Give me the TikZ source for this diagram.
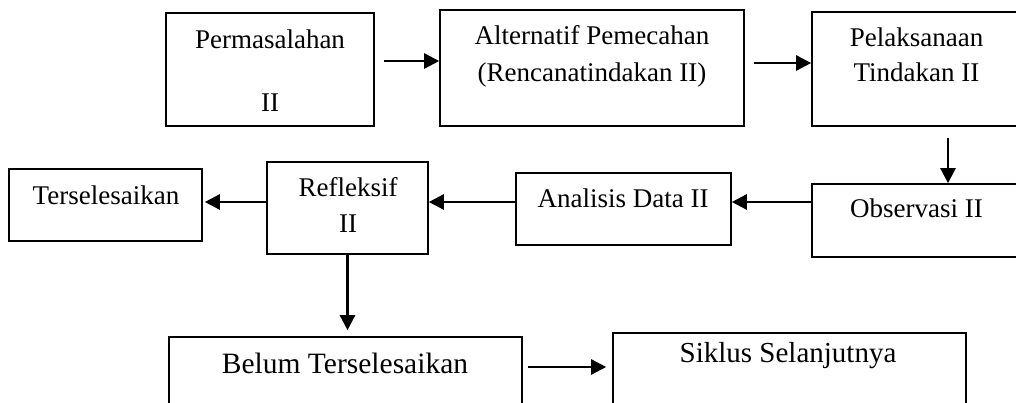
\documentclass[tikz,border=0pt]{standalone}
\usepackage{fontspec}
\setmainfont{Liberation Serif}
\usetikzlibrary{arrows.meta}
\begin{document}
\begin{tikzpicture}[x=1pt,y=-1pt,
  box/.style={draw=black,line width=1.6pt,fill=white},
  lbl/.style={anchor=base,inner sep=0pt,font=\fontsize{27}{30}\selectfont},
  biglbl/.style={anchor=base,inner sep=0pt,font=\fontsize{29.5}{33}\selectfont},
  arr/.style={line width=2.5pt,-{Triangle[length=15pt,width=15pt]}}]
\path[use as bounding box,clip] (0,0) rectangle (1016,403);
\fill[white] (0,0) rectangle (1016,403);
% boxes
\node[box,minimum width=208pt,minimum height=113pt] (perm) at (270,69.5) {};
\node[box,minimum width=304pt,minimum height=116pt] (alt) at (592,68) {};
\node[box,minimum width=209pt,minimum height=114pt] (pel) at (916.5,69) {};
\node[box,minimum width=209pt,minimum height=73pt] (obs) at (916.5,220.5) {};
\node[box,minimum width=215pt,minimum height=72pt] (ana) at (623.5,209) {};
\node[box,minimum width=161pt,minimum height=92pt] (ref) at (347.5,208) {};
\node[box,minimum width=193pt,minimum height=72pt] (ters) at (105.5,205) {};
\node[box,minimum width=353pt,minimum height=73pt] (belum) at (345.5,373.5) {};
\node[box,minimum width=353pt,minimum height=77pt] (sik) at (789.5,371.5) {};
% texts
\node[lbl] (tperm1) at (270,49) {Permasalahan};
\node[lbl] (tperm2) at (270,112) {II};
\node[lbl] (talt1) at (592,45) {Alternatif Pemecahan};
\node[lbl] (talt2) at (592,82) {(Rencanatindakan II)};
\node[lbl] (tpel1) at (916.5,47) {Pelaksanaan};
\node[lbl] (tpel2) at (916.5,82) {Tindakan II};
\node[lbl] (tobs) at (916.5,218) {Observasi II};
\node[lbl] (tana) at (623,208) {Analisis Data II};
\node[lbl] (tref1) at (348,197) {Refleksif};
\node[lbl] (tref2) at (348,233) {II};
\node[lbl] (tters) at (106,205) {Terselesaikan};
\node[biglbl] (tbelum) at (345,373) {Belum Terselesaikan};
\node[lbl,font=\fontsize{29}{32}\selectfont] (tsik) at (788,362) {Siklus Selanjutnya};
% connectors
\draw[arr] ([xshift=9pt,yshift=8.5pt]perm.east) -- ([yshift=8.5pt]perm.east -| alt.west);
\draw[arr] ([xshift=9pt,yshift=5pt]alt.east) -- ([yshift=5pt]alt.east -| pel.west);
\draw[arr] ([xshift=31.5pt,yshift=-11pt]pel.south) -- ([xshift=31.5pt]obs.north);
\draw[arr] ([yshift=18.5pt]obs.west) -- ([yshift=18.5pt]obs.west -| ana.east);
\draw[arr] ([yshift=7pt]ana.west) -- ([yshift=7pt]ana.west -| ref.east);
\draw[arr] ([yshift=6pt]ref.west) -- ([xshift=2pt,yshift=6pt]ref.west -| ters.east);
\draw[arr] (ref.south) -- ([yshift=6pt]ref.south |- belum.north);
\draw[arr] ([xshift=5pt,yshift=6.5pt]belum.east) -- ([xshift=-6pt,yshift=6.5pt]belum.east -| sik.west);
\end{tikzpicture}
\end{document}
